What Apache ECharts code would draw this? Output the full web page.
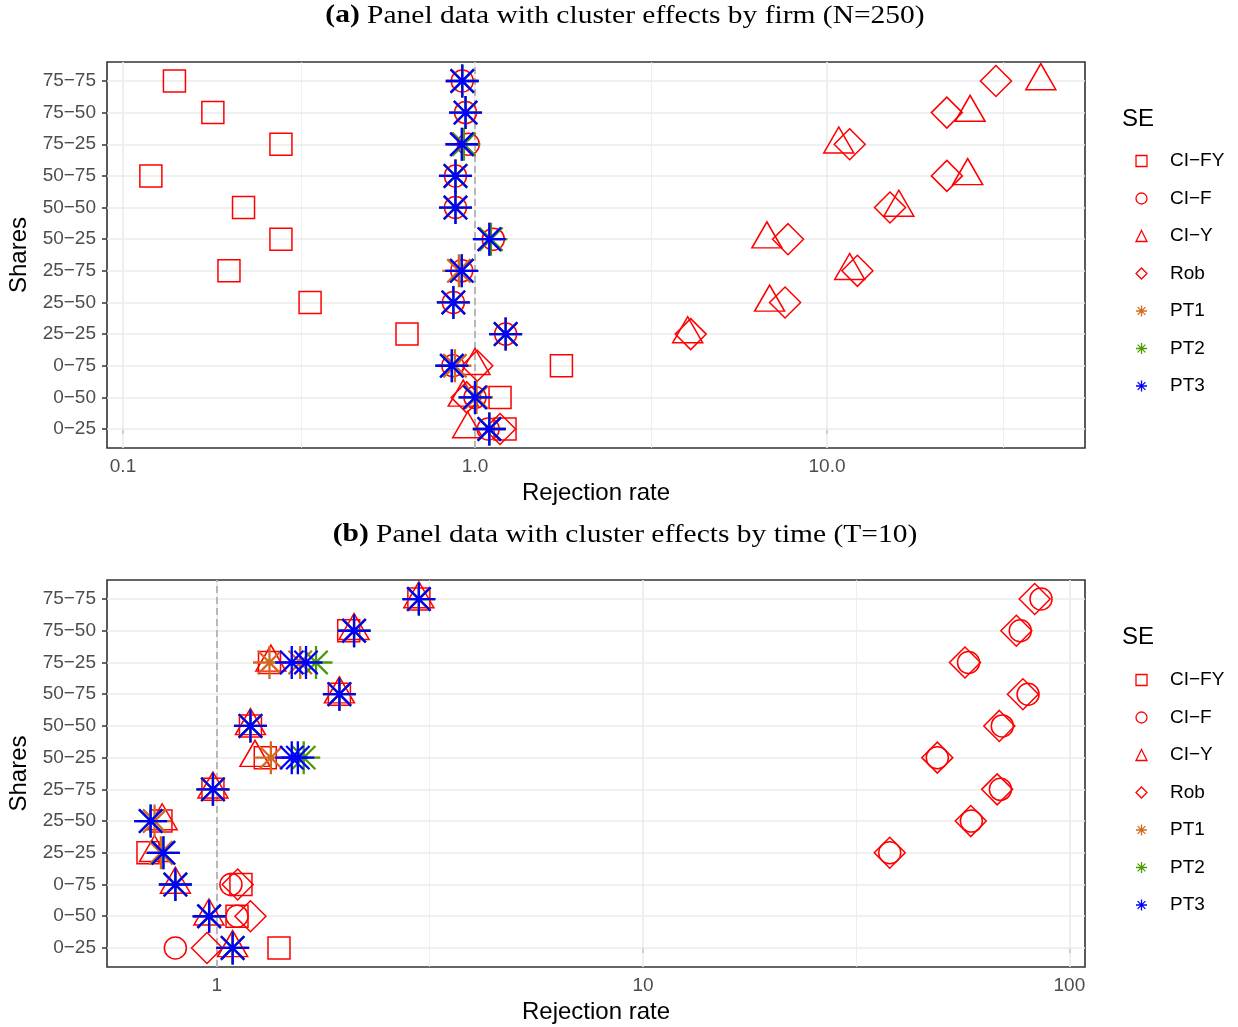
<!DOCTYPE html>
<html><head><meta charset="utf-8">
<script src="https://cdn.jsdelivr.net/npm/echarts@6/dist/echarts.min.js"></script>
<style>html,body{margin:0;padding:0;background:#fff}#c{width:1238px;height:1027px}</style>
</head><body><div id="c"></div>
<script>
// ---------- data ----------
const categories = ['0−25','0−50','0−75','25−25','25−50','25−75','50−25','50−50','50−75','75−25','75−50','75−75'];
const seriesNames = ['CI−FY','CI−F','CI−Y','Rob','PT1','PT2','PT3'];

const xTicksA = [0.1, 1, 10];
const xTickLabelsA = ['0.1', '1.0', '10.0'];
const xMinorA = [0.3162, 3.162, 31.62];
const xTicksB = [1, 10, 100];
const xTickLabelsB = ['1', '10', '100'];
const xMinorB = [3.162, 31.62];

// Panel (a): cluster effects by firm (N=250) — order follows categories
const a_CIFY = [1.217, 1.178, 1.76, 0.641, 0.340, 0.200, 0.281, 0.220, 0.120, 0.281, 0.180, 0.140];
const a_CIF  = [1.09, 1.00, 0.865, 1.222, 0.868, 0.917, 1.127, 0.88, 0.88, 0.957, 0.94, 0.92];
const a_CIY  = [0.953, 0.926, 1.00, 4.02, 6.87, 11.6, 6.75, 16.0, 25.1, 10.8, 25.5, 40.5];
const a_Rob  = [1.178, 0.947, 1.015, 4.10, 7.6, 12.2, 7.75, 15.1, 21.9, 11.6, 21.9, 30.2];
const a_PT1  = [1.098, 1.01, 0.877, 1.222, 0.868, 0.90, 1.10, 0.88, 0.88, 0.92, 0.94, 0.92];
const a_PT2  = [1.098, 1.00, 0.86, 1.222, 0.868, 0.917, 1.11, 0.88, 0.88, 0.93, 0.94, 0.92];
const a_PT3  = [1.098, 1.00, 0.859, 1.222, 0.868, 0.917, 1.098, 0.88, 0.88, 0.917, 0.94, 0.92];

// Panel (b): cluster effects by time (T=10)
const b_CIFY = [1.40, 1.116, 1.14, 0.69, 0.74, 0.98, 1.30, 1.20, 1.94, 1.33, 2.04, 2.98];
const b_CIF  = [0.80, 1.116, 1.08, 37.9, 58.9, 68.9, 49.0, 69.6, 80.0, 58.0, 76.7, 85.8];
const b_CIY  = [1.09, 0.959, 0.80, 0.715, 0.745, 0.98, 1.23, 1.20, 1.94, 1.34, 2.10, 2.98];
const b_Rob  = [0.949, 1.20, 1.12, 37.9, 58.7, 67.7, 49.0, 68.5, 77.8, 56.9, 75.1, 82.9];
const b_PT1  = [1.09, 0.96, 0.80, 0.74, 0.715, 0.98, 1.34, 1.20, 1.94, 1.33, 2.10, 2.98];
const b_PT1x = [null, null, null, null, null, null, null, null, null, 1.57, null, null];
const b_PT2  = [1.09, 0.96, 0.80, 0.75, 0.70, 0.98, 1.60, 1.20, 1.94, 1.71, 2.10, 2.98];
const b_PT3  = [1.09, 0.96, 0.80, 0.75, 0.70, 0.98, 1.50, 1.20, 1.94, 1.50, 2.10, 2.98];
const b_PT3x = [null, null, null, null, null, null, 1.55, null, null, 1.62, null, null];

// ---------- styles ----------
const RED = '#FF0000', ORANGE = '#D2691E', GREEN = '#4A9A00', BLUE = '#0000FF';
const ASTER = 'path://M0,-1L0,1M-1,0L1,0M-0.7071,-0.7071L0.7071,0.7071M-0.7071,0.7071L0.7071,-0.7071';
const styles = {
  'CI−FY': {symbol: 'rect', size: 22, color: RED, bw: 1.5},
  'CI−F':  {symbol: 'circle', size: 22, color: RED, bw: 1.5},
  'CI−Y':  {symbol: 'triangle', size: [30, 26], offset: [0, -4.3], color: RED, bw: 1.5},
  'Rob':   {symbol: 'diamond', size: 31, color: RED, bw: 1.5},
  'PT1':   {symbol: ASTER, size: 33, color: ORANGE, bw: 2.3},
  'PT2':   {symbol: ASTER, size: 33, color: GREEN, bw: 2.3},
  'PT3':   {symbol: ASTER, size: 33, color: BLUE, bw: 2.3}
};
const SANS = '"Liberation Sans", Arial, Helvetica, sans-serif';
const SERIF = '"Liberation Serif", "Times New Roman", serif';

function pts(vals) {
  const out = [];
  vals.forEach((v, i) => { if (v != null) out.push([v, i]); });
  return out;
}
function mk(name, vals, gi) {
  const s = styles[name];
  return {
    type: 'scatter', name: name, xAxisIndex: gi, yAxisIndex: gi, data: pts(vals),
    symbol: s.symbol, symbolSize: s.size, symbolOffset: s.offset || [0, 0],
    itemStyle: {color: 'none', borderColor: s.color, borderWidth: s.bw, opacity: 1},
    emphasis: {disabled: true}, silent: true, z: 10
  };
}
function helper(gi, majors, minors) {
  const lines = [];
  categories.forEach((c, i) => lines.push({yAxis: i, lineStyle: {color: '#EBEBEB', width: 1.6, type: 'solid'}}));
  minors.forEach(v => lines.push({xAxis: v, lineStyle: {color: '#EBEBEB', width: 0.8, type: 'solid'}}));
  majors.forEach(v => lines.push({xAxis: v, lineStyle: {color: '#EBEBEB', width: 1.6, type: 'solid'}}));
  lines.push({xAxis: 1, lineStyle: {color: '#B8B8B8', width: 2, type: [7, 4]}});
  return {
    type: 'scatter', name: '_grid' + gi, xAxisIndex: gi, yAxisIndex: gi, data: [], z: 1, silent: true,
    markLine: {z: 1, silent: true, symbol: ['none', 'none'], label: {show: false}, animation: false, data: lines}
  };
}
function xAxisDef(gi, min, max, ticks, labels) {
  return {
    type: 'log', logBase: 10, gridIndex: gi, min: min, max: max,
    name: 'Rejection rate', nameLocation: 'middle', nameGap: 33,
    nameTextStyle: {fontFamily: SANS, fontSize: 24, color: '#000'},
    axisLine: {show: false},
    axisTick: {show: true, length: 5, lineStyle: {color: '#333', width: 1.5}, customValues: ticks},
    axisLabel: {show: true, margin: 9, fontFamily: SANS, fontSize: 19, color: '#4D4D4D', customValues: ticks,
      formatter: v => { const k = ticks.findIndex(t => Math.abs(t - v) / t < 1e-6); return k >= 0 ? labels[k] : ''; }},
    splitLine: {show: false}, minorSplitLine: {show: false}
  };
}
function yAxisDef(gi) {
  const idx = categories.map((c, i) => i);
  return {
    type: 'value', gridIndex: gi, min: -0.6, max: 11.6,
    name: 'Shares', nameLocation: 'middle', nameGap: 73, nameRotate: 90,
    nameTextStyle: {fontFamily: SANS, fontSize: 24, color: '#000'},
    axisLine: {show: false},
    axisTick: {show: true, length: 5, lineStyle: {color: '#333', width: 1.5}, customValues: idx},
    axisLabel: {show: true, margin: 11, fontFamily: SANS, fontSize: 19, color: '#4D4D4D', customValues: idx,
      formatter: v => categories[Math.round(v)] || ''},
    splitLine: {show: false}
  };
}
function legendDef(top) {
  return {
    orient: 'vertical', left: 1128.5, top: top, itemWidth: 11, itemHeight: 11, itemGap: 15.5,
    selectedMode: false,
    data: seriesNames.map(n => ({name: n, icon: styles[n].symbol})),
    itemStyle: {borderWidth: 1.3},
    textStyle: {fontFamily: SANS, fontSize: 19, color: '#000', lineHeight: 22, padding: [0, 0, 0, 18]}
  };
}

const series = [
  helper(0, xTicksA, xMinorA),
  mk('CI−FY', a_CIFY, 0), mk('CI−F', a_CIF, 0), mk('CI−Y', a_CIY, 0), mk('Rob', a_Rob, 0),
  mk('PT1', a_PT1, 0), mk('PT2', a_PT2, 0), mk('PT3', a_PT3, 0),
  helper(1, xTicksB, xMinorB),
  mk('CI−FY', b_CIFY, 1), mk('CI−F', b_CIF, 1), mk('CI−Y', b_CIY, 1), mk('Rob', b_Rob, 1),
  mk('PT1', b_PT1, 1), mk('PT1', b_PT1x, 1), mk('PT2', b_PT2, 1), mk('PT3', b_PT3, 1), mk('PT3', b_PT3x, 1)
];

const titleStyle = (txt) => ({
  text: txt, fontFamily: SERIF, fontSize: 25, fill: '#000', align: 'center', verticalAlign: 'middle',
  rich: {b: {fontFamily: SERIF, fontSize: 25, fontWeight: 'bold', fill: '#000'}}
});

const chart = echarts.init(document.getElementById('c'), null, {renderer: 'canvas', width: 1238, height: 1027});
chart.setOption({
  animation: false,
  backgroundColor: '#fff',
  grid: [
    {left: 107, top: 62, width: 978, height: 386, show: true, borderColor: '#333', borderWidth: 1.6, backgroundColor: '#fff', containLabel: false, outerBoundsMode: 'none'},
    {left: 107, top: 580, width: 978, height: 387, show: true, borderColor: '#333', borderWidth: 1.6, backgroundColor: '#fff', containLabel: false, outerBoundsMode: 'none'}
  ],
  xAxis: [
    xAxisDef(0, 0.09006, 54.07, xTicksA, xTickLabelsA),
    xAxisDef(1, 0.5530, 108.8, xTicksB, xTickLabelsB)
  ],
  yAxis: [yAxisDef(0), yAxisDef(1)],
  legend: [legendDef(145), legendDef(664)],
  graphic: [
    {type: 'text', x: 625, y: 16, scaleX: 1.18, style: titleStyle('{b|(a)} Panel data with cluster effects by firm (N=250)')},
    {type: 'text', x: 625, y: 535, scaleX: 1.18, style: titleStyle('{b|(b)} Panel data with cluster effects by time (T=10)')},
    {type: 'text', x: 1122, y: 119, style: {text: 'SE', fontFamily: SANS, fontSize: 24, fill: '#000', align: 'left', verticalAlign: 'middle'}},
    {type: 'text', x: 1122, y: 637, style: {text: 'SE', fontFamily: SANS, fontSize: 24, fill: '#000', align: 'left', verticalAlign: 'middle'}}
  ],
  series: series
});
</script></body></html>
